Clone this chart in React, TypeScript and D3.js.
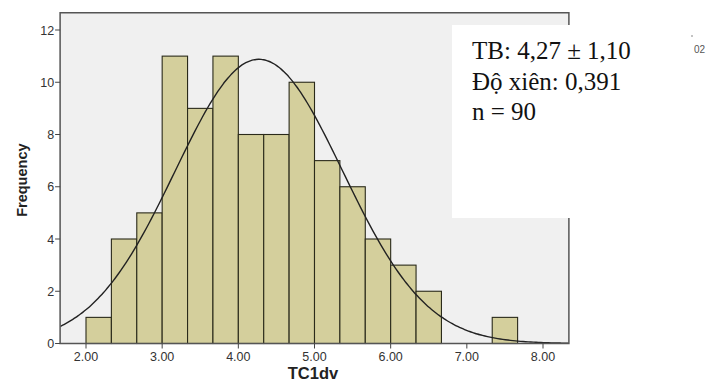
import React from "react";
import * as d3 from "d3";

const binStarts = [2.0, 2.3333, 2.6667, 3.0, 3.3333, 3.6667, 4.0, 4.3333, 4.6667, 5.0, 5.3333, 5.6667, 6.0, 6.3333, 7.3333];
const counts = [1, 4, 5, 11, 9, 11, 8, 8, 10, 7, 6, 4, 3, 2, 1];
const binWidth = 1 / 3;
const xTicks = [2, 3, 4, 5, 6, 7, 8];
const yTicks = [0, 2, 4, 6, 8, 10, 12];
const meanVal = 4.27;
const sdVal = 1.1;
const nVal = 90;
const statLines = ["TB: 4,27 ± 1,10", "Độ xiên: 0,391", "n = 90"];

export default function App() {
  const x = d3.scaleLinear().domain([2, 8]).range([86, 543]);
  const y = d3.scaleLinear().domain([0, 12]).range([343.5, 30]);
  const left = x(1.66);
  const right = x(8.34);
  const top = y(12.66);
  const bottom = y(0);

  const curvePts: [number, number][] = [];
  for (let i = 0; i <= 200; i++) {
    const v = 1.66 + (8.34 - 1.66) * (i / 200);
    const dens =
      (nVal * binWidth) / (sdVal * Math.sqrt(2 * Math.PI)) *
      Math.exp(-0.5 * ((v - meanVal) / sdVal) ** 2);
    curvePts.push([v, dens]);
  }
  const line = d3
    .line<[number, number]>()
    .x((d) => x(d[0]))
    .y((d) => y(d[1]))
    .curve(d3.curveBasis);

  const sans = "Liberation Sans, Arial, sans-serif";

  return (
    <svg width={711} height={385} style={{ position: "absolute", left: 0, top: 0 }}>
      <rect x={0} y={0} width={711} height={385} fill="#ffffff" />
      <defs>
        <clipPath id="plotclip">
          <rect x={left} y={top} width={right - left} height={bottom - top} />
        </clipPath>
      </defs>
      <rect x={left} y={top} width={right - left} height={bottom - top} fill="#f0f0f0" />
      {binStarts.map((b, i) => (
        <rect
          key={i}
          x={x(b)}
          y={y(counts[i])}
          width={x(b + binWidth) - x(b)}
          height={bottom - y(counts[i])}
          fill="#d4cf9c"
          stroke="#2a2a1a"
          strokeWidth={1.1}
        />
      ))}
      <path d={line(curvePts) || ""} fill="none" stroke="#222" strokeWidth={1.4} clipPath="url(#plotclip)" />
      <rect x={left} y={top} width={right - left} height={bottom - top} fill="none" stroke="#555" strokeWidth={1.5} />
      {yTicks.map((t) => (
        <g key={t}>
          <line x1={left - 5} x2={left} y1={y(t)} y2={y(t)} stroke="#444" strokeWidth={1} />
          <text x={left - 6} y={y(t) + 4.5} textAnchor="end" fontFamily={sans} fontSize={12.5} fill="#333">
            {t}
          </text>
        </g>
      ))}
      {xTicks.map((t) => (
        <g key={t}>
          <line x1={x(t)} x2={x(t)} y1={bottom} y2={bottom + 5} stroke="#444" strokeWidth={1} />
          <text x={x(t)} y={bottom + 17.5} textAnchor="middle" fontFamily={sans} fontSize={12.5} fill="#333">
            {t.toFixed(2)}
          </text>
        </g>
      ))}
      <text
        transform={`translate(27, ${(top + bottom) / 2 + 2}) rotate(-90)`}
        textAnchor="middle"
        fontFamily={sans}
        fontWeight="bold"
        fontSize={14.5}
        fill="#222"
      >
        Frequency
      </text>
      <text x={313} y={379} textAnchor="middle" fontFamily={sans} fontWeight="bold" fontSize={16.5} fill="#222">
        TC1dv
      </text>
      <rect x={452} y={25} width={125} height={193} fill="#ffffff" />
      {statLines.map((s, i) => (
        <text key={i} x={472} y={59 + i * 30.5} fontFamily="Liberation Serif, Times New Roman, serif" fontSize={25} fill="#111">
          {s}
        </text>
      ))}
      <circle cx={692} cy={36} r={0.8} fill="#777" />
      <text x={694} y={53} fontFamily={sans} fontSize={10} fill="#555">
        02
      </text>
    </svg>
  );
}
